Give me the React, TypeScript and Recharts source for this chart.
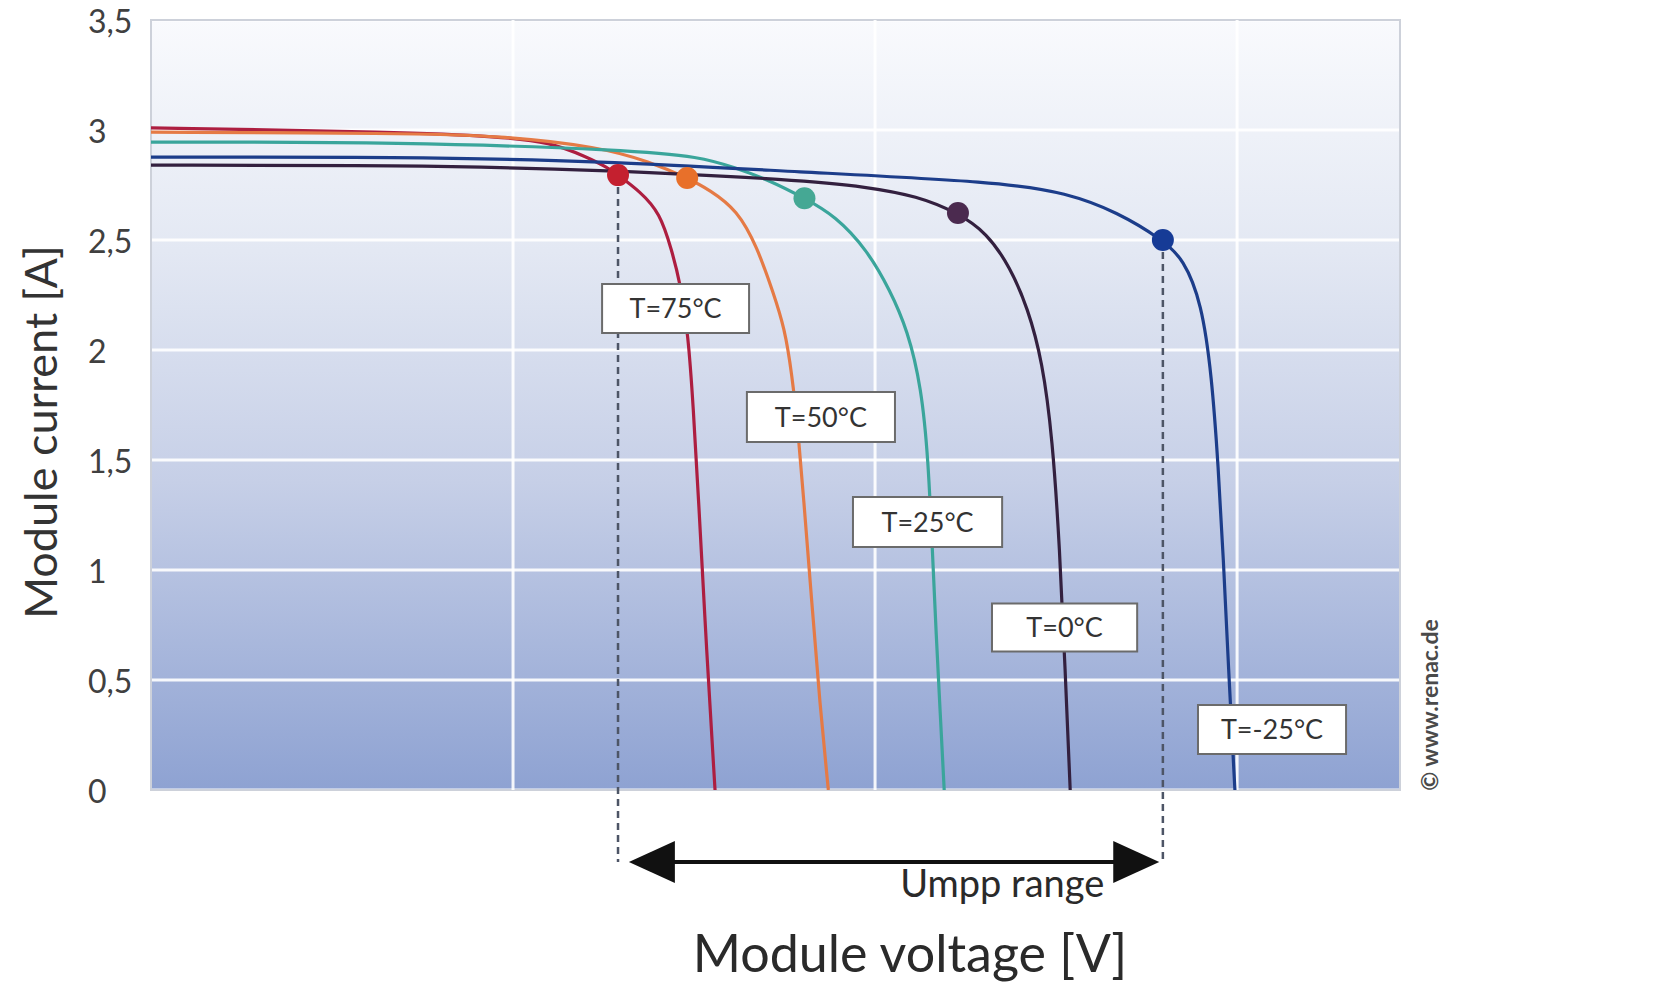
import React from 'react';
import {
  LineChart,
  Line,
  XAxis,
  YAxis,
  CartesianGrid,
  ReferenceArea,
  ReferenceLine,
  ReferenceDot,
} from 'recharts';

const FONT = 'Lato, "Open Sans", sans-serif';

// I-V curves: voltage [V] and current [A] per temperature
const v75 = [0, 6.88, 9.64, 11.02, 12.04, 12.6, 12.9, 13.51, 14.06, 14.38, 14.61, 14.84, 14.98, 15.12, 15.35, 15.58];
const i75 = [3.01, 2.99, 2.97, 2.945, 2.877, 2.83, 2.795, 2.72, 2.623, 2.455, 2.311, 2.073, 1.736, 1.338, 0.62, 0];

const v50 = [0, 6.88, 9.64, 12.4, 13.78, 14.81, 15.44, 16.19, 16.74, 17.19, 17.5, 17.7, 17.88, 18.02, 18.25, 18.48, 18.71];
const i50 = [2.99, 2.985, 2.975, 2.923, 2.855, 2.782, 2.727, 2.636, 2.47, 2.26, 2.1, 1.896, 1.625, 1.338, 0.86, 0.38, 0];

const v25 = [0, 6.88, 13.31, 15.17, 16.08, 17.1, 18.05, 18.9, 19.78, 20.41, 20.9, 21.28, 21.47, 21.58, 21.69, 21.8, 21.91];
const i25 = [2.945, 2.945, 2.909, 2.877, 2.832, 2.77, 2.69, 2.61, 2.455, 2.273, 2.09, 1.83, 1.5, 1.1, 0.7, 0.35, 0];

const v0 = [0, 6.88, 12.4, 17.93, 19.78, 21.16, 22.29, 23.09, 23.73, 24.22, 24.62, 24.9, 25.1, 25.25, 25.39];
const i0 = [2.84, 2.84, 2.82, 2.773, 2.741, 2.7, 2.623, 2.532, 2.377, 2.19, 1.95, 1.6, 1.1, 0.55, 0];

const vm25 = [0, 6.88, 12.4, 17.93, 23.45, 25.3, 26.69, 27.95, 28.52, 29.02, 29.3, 29.48, 29.62, 29.76, 29.94];
const im25 = [2.877, 2.877, 2.86, 2.809, 2.764, 2.714, 2.627, 2.5, 2.414, 2.215, 1.884, 1.471, 1.058, 0.562, 0];

// maximum power points
const mppV = [12.9, 14.81, 18.05, 22.29, 27.95];
const mppI = [2.795, 2.782, 2.69, 2.623, 2.5];

const labels = ['T=75°C', 'T=50°C', 'T=25°C', 'T=0°C', 'T=-25°C'];
const labelX1 = [12.46, 16.46, 19.39, 23.23, 28.92];
const labelX2 = [16.52, 20.55, 23.51, 27.24, 33.01];
const labelY1 = [2.077, 1.582, 1.105, 0.63, 0.164];
const labelY2 = [2.3, 1.809, 1.332, 0.848, 0.386];

const lineColors = ['#ad1e40', '#e57a45', '#3aa59b', '#33203f', '#1c3d8a'];
const dotColors = ['#c4202f', '#e8702a', '#45a894', '#4b2a4f', '#163b96'];

const yTicks = [0, 0.5, 1, 1.5, 2, 2.5, 3, 3.5];
const xGrid = [10, 20, 30];
const umppY = -0.327;
const umppFrom = 13.2;
const umppTo = 27.85;

const zip = (v: number[], i: number[]) => v.map((x, k) => ({ v: x, i: i[k] }));
const series = [zip(v75, i75), zip(v50, i50), zip(v25, i25), zip(v0, i0), zip(vm25, im25)];

const YTick = ({ x, y, payload }: any) => (
  <text
    x={x - 55}
    y={y}
    textAnchor="start"
    dominantBaseline="central"
    fill="#404040"
    fontSize={32}
    fontFamily={FONT}
  >
    {String(payload.value).replace('.', ',')}
  </text>
);

const UmppArrow = (props: any) => {
  const { x1, y1, x2 } = props;
  const head = 46;
  const half = 21;
  return (
    <g>
      <line x1={x1 + head - 4} y1={y1} x2={x2 - head + 4} y2={y1} stroke="#111" strokeWidth={4} />
      <polygon points={`${x1},${y1} ${x1 + head},${y1 - half} ${x1 + head},${y1 + half}`} fill="#111" />
      <polygon points={`${x2},${y1} ${x2 - head},${y1 - half} ${x2 - head},${y1 + half}`} fill="#111" />
      <text x={x2 - 55} y={y1 + 35} textAnchor="end" fill="#2a2a2a" fontSize={38} fontFamily={FONT}>
        Umpp range
      </text>
    </g>
  );
};

export default function App() {
  return (
    <div
      style={{
        position: 'absolute',
        left: 0,
        top: 0,
        width: 1672,
        height: 988,
        background: '#fff',
        fontFamily: FONT,
      }}
    >
      <LineChart width={1672} height={988} margin={{ top: 20, right: 272, bottom: 198, left: 91 }}>
        <defs>
          <linearGradient id="plotBg" x1="0" y1="0" x2="0" y2="1">
            <stop offset="0%" stopColor="#f9fafd" />
            <stop offset="30%" stopColor="#e3e8f3" />
            <stop offset="60%" stopColor="#c6cfe7" />
            <stop offset="100%" stopColor="#8ea2d2" />
          </linearGradient>
        </defs>
        <CartesianGrid
          vertical={false}
          fill="url(#plotBg)"
          fillOpacity={1}
          stroke="#ffffff"
          strokeWidth={3}
          strokeOpacity={0.9}
        />
        <XAxis
          type="number"
          dataKey="v"
          domain={[0, 34.5]}
          allowDataOverflow
          tick={false}
          axisLine={false}
          tickLine={false}
          height={0}
        />
        <YAxis
          type="number"
          domain={[0, 3.5]}
          ticks={yTicks}
          allowDataOverflow
          width={60}
          axisLine={false}
          tickLine={false}
          tick={<YTick />}
        />
        <ReferenceArea x1={0} x2={34.5} y1={0} y2={3.5} fill="none" stroke="#cdd1da" strokeWidth={2} />
        {xGrid.map((x) => (
          <ReferenceLine key={'g' + x} x={x} stroke="#ffffff" strokeWidth={3} strokeOpacity={0.9} />
        ))}

        {/* Umpp range markers */}
        <ReferenceLine
          segment={[{ x: mppV[0], y: mppI[0] }, { x: mppV[0], y: umppY }]}
          ifOverflow="visible"
          stroke="#4d5566"
          strokeWidth={2.5}
          strokeDasharray="7 5"
        />
        <ReferenceLine
          segment={[{ x: mppV[4], y: mppI[4] }, { x: mppV[4], y: umppY }]}
          ifOverflow="visible"
          stroke="#4d5566"
          strokeWidth={2.5}
          strokeDasharray="7 5"
        />

        {series.map((d, k) => (
          <Line
            key={labels[k]}
            data={d}
            dataKey="i"
            type="basis"
            stroke={lineColors[k]}
            strokeWidth={3.2}
            dot={false}
            activeDot={false}
            isAnimationActive={false}
          />
        ))}

        {mppV.map((v, k) => (
          <ReferenceDot key={'mpp' + k} x={v} y={mppI[k]} r={11} fill={dotColors[k]} stroke="none" ifOverflow="visible" />
        ))}

        {labels.map((t, k) => (
          <ReferenceArea
            key={t}
            x1={labelX1[k]}
            x2={labelX2[k]}
            y1={labelY1[k]}
            y2={labelY2[k]}
            fill="#ffffff"
            fillOpacity={1}
            stroke="#6b6b6b"
            strokeWidth={2}
            zIndex={1000}
            label={{ value: t, position: 'center', fill: '#333', fontSize: 27, fontFamily: FONT }}
          />
        ))}

        <ReferenceLine
          segment={[{ x: umppFrom, y: umppY }, { x: umppTo, y: umppY }]}
          ifOverflow="visible"
          shape={UmppArrow}
        />
      </LineChart>

      <div
        style={{
          position: 'absolute',
          left: 40,
          top: 432,
          transform: 'translate(-50%, -50%) rotate(-90deg)',
          whiteSpace: 'nowrap',
          fontSize: 45,
          color: '#333',
        }}
      >
        Module current [A]
      </div>
      <svg
        width={1672}
        height={988}
        style={{ position: 'absolute', left: 0, top: 0, pointerEvents: 'none' }}
      >
        <text x={910} y={972} textAnchor="middle" fontSize={52} fontFamily={FONT} fill="#2a2a2a">
          Module voltage [V]
        </text>
      </svg>
      <div
        style={{
          position: 'absolute',
          left: 1429,
          top: 705,
          transform: 'translate(-50%, -50%) rotate(-90deg)',
          whiteSpace: 'nowrap',
          fontSize: 23,
          fontWeight: 700,
          color: '#4a4a4a',
        }}
      >
        © www.renac.de
      </div>
    </div>
  );
}
